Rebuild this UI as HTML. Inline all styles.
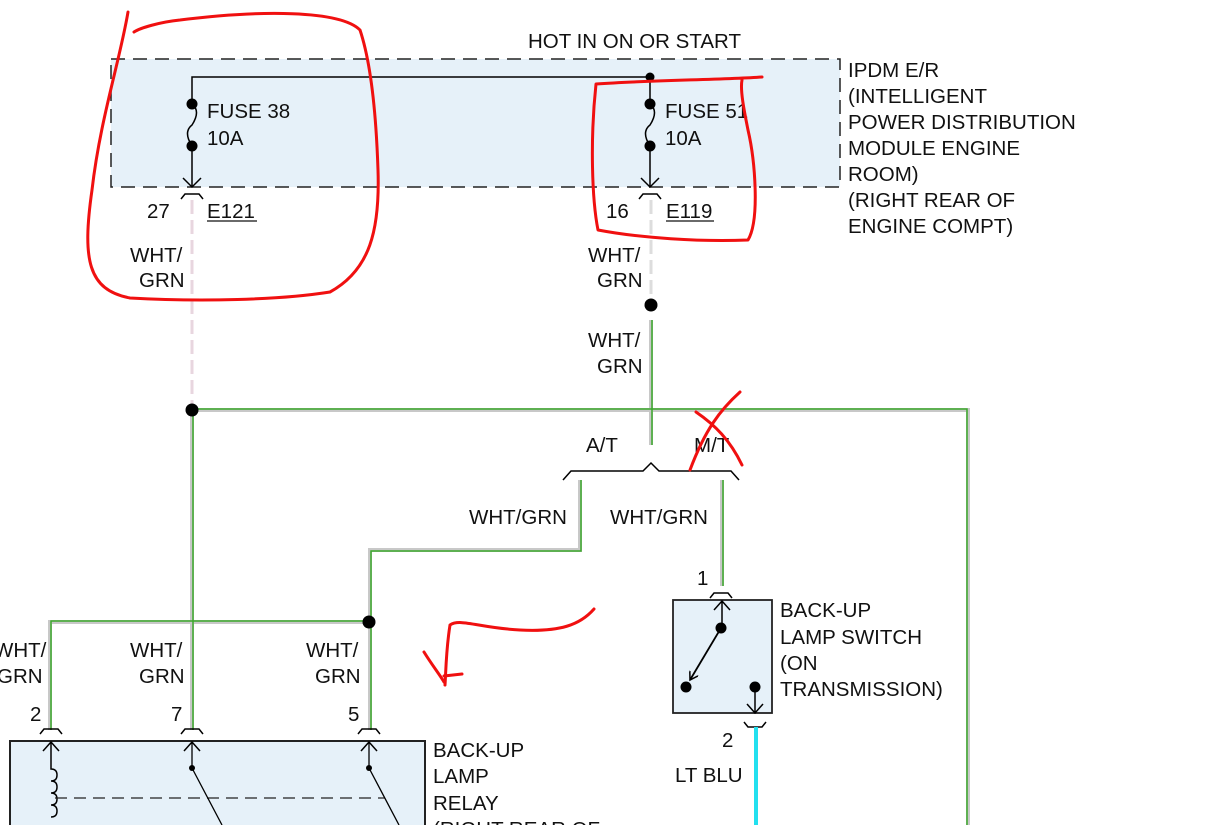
<!DOCTYPE html>
<html><head><style>
html,body{margin:0;padding:0;background:#fff;width:1224px;height:825px;overflow:hidden}
svg{display:block}
text{font-family:"Liberation Sans",sans-serif;font-size:20.5px;fill:#111}
</style></head><body>
<svg width="1224" height="825" viewBox="0 0 1224 825">
<defs>
<marker id="ah" markerWidth="10" markerHeight="10" refX="8" refY="5" orient="auto" markerUnits="userSpaceOnUse"><path d="M0,0 L8,5 L0,10" fill="none" stroke="#000" stroke-width="1.5"/></marker>
</defs>
<rect x="111" y="59" width="729" height="128" fill="#e6f1f9"/>
<path d="M111,59 H840 V187 H111 Z" fill="none" stroke="#222" stroke-width="1.5" stroke-dasharray="14,8"/>
<path d="M192,187 V77 H650 V187" fill="none" stroke="#000" stroke-width="1.5"/>
<circle cx="650" cy="77" r="4.5"/>
<rect x="186" y="106" width="12" height="38" fill="#e6f1f9"/><rect x="644" y="106" width="12" height="38" fill="#e6f1f9"/>
<path d="M192,104 q9,7 0,21 q-9,7 0,21" fill="none" stroke="#000" stroke-width="1.5"/>
<path d="M650,104 q9,7 0,21 q-9,7 0,21" fill="none" stroke="#000" stroke-width="1.5"/>
<circle cx="192" cy="104" r="5.5"/><circle cx="192" cy="146" r="5.5"/>
<circle cx="650" cy="104" r="5.5"/><circle cx="650" cy="146" r="5.5"/>
<path d="M183,178 L192,187 L201,178 M641,178 L650,187 L659,178" fill="none" stroke="#000" stroke-width="1.5"/>
<path d="M181,199 l4,-5 h14 l4,5 M639,199 l4,-5 h14 l4,5" fill="none" stroke="#000" stroke-width="1.5"/>
<text x="207" y="118">FUSE 38</text><text x="207" y="145">10A</text>
<text x="665" y="118">FUSE 51</text><text x="665" y="145">10A</text>
<text x="528" y="48">HOT IN ON OR START</text>
<text x="848" y="77">IPDM E/R</text>
<text x="848" y="103">(INTELLIGENT</text>
<text x="848" y="129">POWER DISTRIBUTION</text>
<text x="848" y="155">MODULE ENGINE</text>
<text x="848" y="181">ROOM)</text>
<text x="848" y="207">(RIGHT REAR OF</text>
<text x="848" y="233">ENGINE COMPT)</text>
<text x="147" y="218">27</text><text x="207" y="218">E121</text>
<line x1="207" y1="221" x2="257" y2="221" stroke="#111" stroke-width="1.2"/>
<text x="606" y="218">16</text><text x="666" y="218">E119</text>
<line x1="666" y1="221" x2="714" y2="221" stroke="#111" stroke-width="1.2"/>
<line x1="192" y1="200" x2="192" y2="405" stroke="#e8d6df" stroke-width="3" stroke-dasharray="14,6"/>
<line x1="651" y1="200" x2="651" y2="300" stroke="#ddd" stroke-width="3" stroke-dasharray="14,6"/>
<g fill="none">
<g stroke="#c8c8c8" stroke-width="4">
<path d="M651,320 V445"/>
<path d="M192,410 H968 V825"/>
<path d="M192,410 V730"/>
<path d="M580,480 V550 H370 V730"/>
<path d="M369,622 H50 V730"/>
<path d="M722,480 V586"/>
</g>
<g stroke="#3aa82a" stroke-width="1.5">
<path d="M652,320 V445"/>
<path d="M192,409 H967 V825"/>
<path d="M193,410 V730"/>
<path d="M581,480 V551 H371 V730"/>
<path d="M369,621 H51 V730"/>
<path d="M723,480 V586"/>
</g>
</g>
<circle cx="192" cy="410" r="6.5"/>
<circle cx="651" cy="305" r="6.5"/>
<circle cx="369" cy="622" r="6.5"/>
<text x="130" y="262">WHT/</text><text x="139" y="287">GRN</text>
<text x="588" y="262">WHT/</text><text x="597" y="287">GRN</text>
<text x="588" y="347">WHT/</text><text x="597" y="373">GRN</text>
<text x="586" y="452">A/T</text><text x="694" y="452">M/T</text>
<path d="M563,480 l8,-9 H643 l8,-8 l8,8 H731 l8,9" fill="none" stroke="#000" stroke-width="1.5"/>
<text x="469" y="524">WHT/GRN</text><text x="610" y="524">WHT/GRN</text>
<text x="-6" y="657">WHT/</text><text x="-3" y="683">GRN</text>
<text x="130" y="657">WHT/</text><text x="139" y="683">GRN</text>
<text x="306" y="657">WHT/</text><text x="315" y="683">GRN</text>
<text x="30" y="721">2</text><text x="171" y="721">7</text><text x="348" y="721">5</text>
<path d="M40,734 l4,-5 h14 l4,5 M181,734 l4,-5 h14 l4,5 M358,734 l4,-5 h14 l4,5" fill="none" stroke="#000" stroke-width="1.5"/>
<rect x="10" y="741" width="415" height="100" fill="#e6f1f9" stroke="#222" stroke-width="2"/>
<path d="M43,751 l8,-9 l8,9 M184,751 l8,-9 l8,9 M361,751 l8,-9 l8,9" fill="none" stroke="#000" stroke-width="1.5"/>
<path d="M51,742 V769 q6,0 6,6 q0,6 -6,6 q6,0 6,6 q0,6 -6,6 q6,0 6,6 q0,6 -6,6 q6,0 6,6 q0,6 -6,6" fill="none" stroke="#000" stroke-width="1.5"/>
<line x1="55" y1="798" x2="385" y2="798" stroke="#222" stroke-width="1.2" stroke-dasharray="12,7"/>
<path d="M192,742 V768 L222,825 M369,742 V768 L399,825" fill="none" stroke="#000" stroke-width="1.3"/>
<circle cx="192" cy="768" r="3"/><circle cx="369" cy="768" r="3"/>
<text x="433" y="757">BACK-UP</text><text x="433" y="783">LAMP</text><text x="433" y="810">RELAY</text><text x="433" y="836">(RIGHT REAR OF</text>
<text x="697" y="585">1</text>
<path d="M710,598 l4,-5 h14 l4,5" fill="none" stroke="#000" stroke-width="1.5"/>
<rect x="673" y="600" width="99" height="113" fill="#e6f1f9" stroke="#222" stroke-width="1.8"/>
<path d="M714,610 l8,-9 l8,9 M722,601 V628" fill="none" stroke="#000" stroke-width="1.5"/>
<circle cx="721" cy="628" r="5.5"/><circle cx="686" cy="687" r="5.5"/><circle cx="755" cy="687" r="5.5"/>
<line x1="721" y1="628" x2="690" y2="680" stroke="#000" stroke-width="1.8" marker-end="url(#ah)"/>
<path d="M755,687 V713 M747,704 l8,9 l8,-9" fill="none" stroke="#000" stroke-width="1.5"/>
<path d="M744,722 l4,5 h14 l4,-5" fill="none" stroke="#000" stroke-width="1.5"/>
<line x1="756" y1="727" x2="756" y2="825" stroke="#22e0ef" stroke-width="4"/>
<text x="722" y="747">2</text><text x="675" y="782">LT BLU</text>
<text x="780" y="617">BACK-UP</text><text x="780" y="644">LAMP SWITCH</text><text x="780" y="670">(ON</text><text x="780" y="696">TRANSMISSION)</text>
<g fill="none" stroke="#f01010" stroke-width="3" stroke-linecap="round" stroke-linejoin="round">
<path d="M128,12 C120,60 100,120 92,190 C82,260 88,290 130,298 C200,302 280,300 330,292 C370,270 380,230 378,170 C376,110 370,60 360,30 C340,10 260,10 180,20 C160,22 140,28 134,32"/>
<path d="M762,77 C720,80 650,80 596,84 C590,140 592,200 598,230 C640,238 700,242 748,240 C760,220 755,160 748,130 C744,110 740,90 742,80"/>
<path d="M740,392 C720,410 705,430 690,470"/>
<path d="M696,412 C715,425 730,440 742,465"/>
<path d="M594,609 C580,625 560,632 520,630 C480,628 460,618 450,625 C446,650 446,670 445,685"/>
<path d="M424,652 C432,665 440,675 444,682 M444,676 L462,674"/>
</g>
</svg>
</body></html>
